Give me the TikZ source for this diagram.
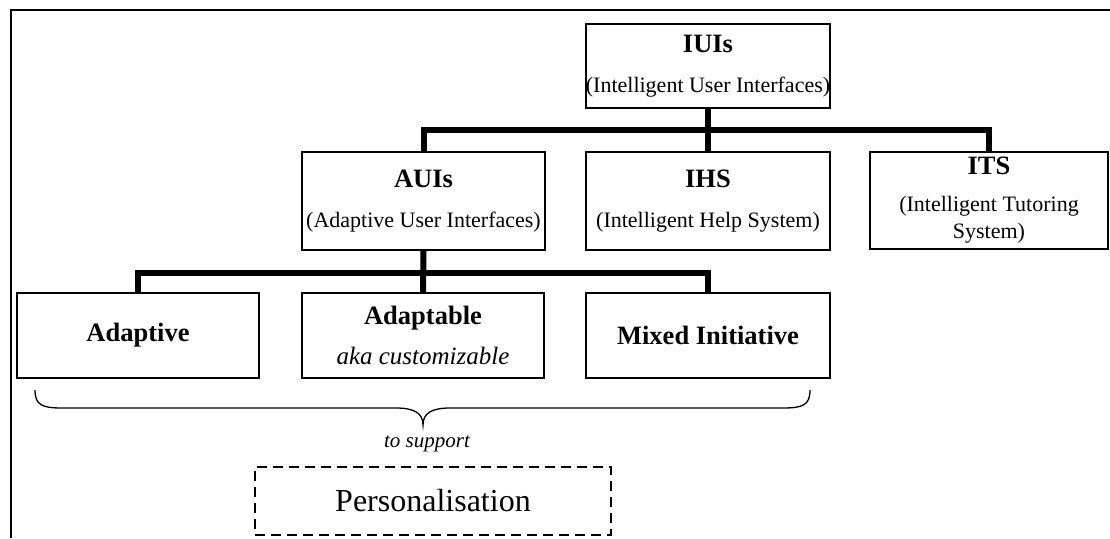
\documentclass[tikz,border=0pt]{standalone}
\usepackage{fontspec}
\setmainfont{Liberation Serif}
\newcommand\ttl[1]{{\fontsize{26.5}{40}\selectfont\bfseries #1}}
\begin{document}
\begin{tikzpicture}[x=1pt,y=-1pt,
  box/.style={draw, line width=1.4pt, inner sep=0pt, align=center,
    font=\fontsize{22}{40}\selectfont},
  bus/.style={line width=6pt, line join=miter},
  frame/.style={line width=1.8pt},
  dbox/.style={draw, line width=2pt, dash pattern=on 10pt off 6pt, inner sep=0pt,
    font=\fontsize{32}{36}\selectfont}]
\useasboundingbox (0,0) rectangle (1110,538);
\draw[frame] (11,538) -- (11,10) -- (1110,10);
\node[box, minimum width=244pt, minimum height=84pt] (iuis) at (708,66)
  {\ttl{IUIs}\\(Intelligent User Interfaces)};
\node[box, minimum width=243pt, minimum height=98pt] (auis) at (423.5,201)
  {\ttl{AUIs}\\(Adaptive User Interfaces)};
\node[box, minimum width=244pt, minimum height=98pt] (ihs) at (708,201)
  {\ttl{IHS}\\(Intelligent Help System)};
\node[box, minimum width=238pt, minimum height=97pt] (its) at (989,200.5)
  {\ttl{ITS}\\[-3pt](Intelligent Tutoring\\[-13pt]System)};
\node[box, minimum width=242pt, minimum height=85pt] (adaptive) at (138,335.5)
  {\ttl{Adaptive}};
\node[box, minimum width=242pt, minimum height=85pt] (adaptable) at (423,335.5)
  {\ttl{Adaptable}\\{\fontsize{25}{40}\selectfont\itshape aka customizable}};
\node[box, minimum width=244pt, minimum height=85pt] (mixed) at (708,335.5)
  {\ttl{Mixed Initiative}};
\node[dbox, minimum width=356pt, minimum height=68pt] (pers) at (433,501)
  {Personalisation};
\coordinate (j1) at (708,130);
\coordinate (j2) at (423,273);
\draw[bus] (iuis.south) -- (ihs.north);
\draw[bus] (auis.north) |- (j1) -| (its.north);
\draw[bus] (auis.south) -- (adaptable.north);
\draw[bus] (adaptive.north) |- (j2) -| (mixed.north);
\coordinate (brL) at (35,390);
\coordinate (brT) at (423,425);
\coordinate (brR) at (810,390);
\draw[line width=1.3pt] (brL) .. controls (35,405) and (42,408) .. (62,408)
  -- (396,408) .. controls (414,408) and (423,413) .. (brT)
  .. controls (423,413) and (432,408) .. (450,408)
  -- (783,408) .. controls (803,408) and (810,405) .. (brR);
\node[font=\fontsize{21}{24}\selectfont\itshape] (sup) at (427,444) {to support};
\end{tikzpicture}
\end{document}
